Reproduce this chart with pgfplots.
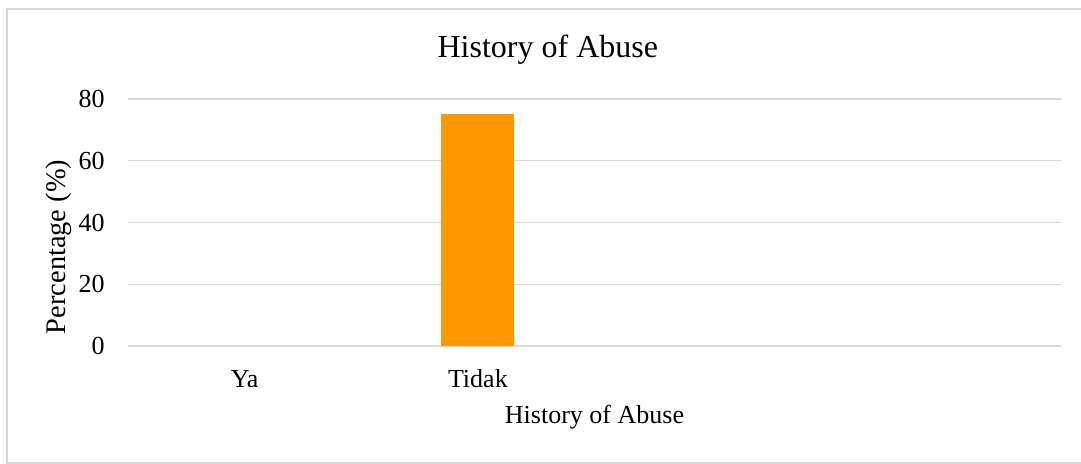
\documentclass[border=0pt]{standalone}
\usepackage{pgfplots}
\pgfplotsset{compat=1.18}
\usepackage{fontspec}
\setmainfont{Liberation Serif}
\definecolor{barorange}{HTML}{FF9900}
\definecolor{gridgray}{HTML}{D9D9D9}
\begin{document}
\begin{tikzpicture}
\useasboundingbox (0,0) rectangle (540.5pt,-232pt);
\draw[gridgray, line width=0.8pt] (3.5pt,-4.5pt) rectangle (548pt,-231.5pt);
\begin{axis}[
  at={(64pt,-173pt)}, anchor=south west,
  scale only axis, width=466.5pt, height=123.5pt,
  xmin=-0.5, xmax=3.5, ymin=0, ymax=80,
  ytick={0,20,40,60,80},
  xtick={0,1}, xticklabels={Ya,Tidak},
  ymajorgrids, grid style={gridgray, line width=0.6pt},
  axis line style={draw=none},
  major tick length=0pt,
  clip=false,
  /pgf/number format/assume math mode=true,
  tick label style={font=\fontsize{13}{15}\selectfont},
  yticklabel style={anchor=east, inner sep=0pt, xshift=-11.5pt},
  xticklabel style={anchor=base, inner sep=0pt, yshift=-20.5pt},
  xlabel={History of Abuse},
  xlabel style={at={(axis description cs:0.5,0)}, anchor=base, inner sep=0pt, yshift=-38.5pt, font=\fontsize{13}{15}\selectfont},
  ylabel={Percentage (\%)},
  ylabel style={at={(axis description cs:-0.0675,0.401)}, anchor=base, inner sep=0pt, font=\fontsize{14.2}{17}\selectfont},
  title={History of Abuse},
  every axis title shift=0pt,
  title style={at={(axis description cs:0.450,1.170)}, anchor=base, inner sep=0pt, yshift=0pt, font=\fontsize{16}{19}\selectfont},
]
% Ya = 0 (no visible bar), Tidak = 75
\addplot[ybar, bar width=36.5pt, fill=barorange, draw=none] coordinates {(1,75)};
\end{axis}
\end{tikzpicture}
\end{document}
